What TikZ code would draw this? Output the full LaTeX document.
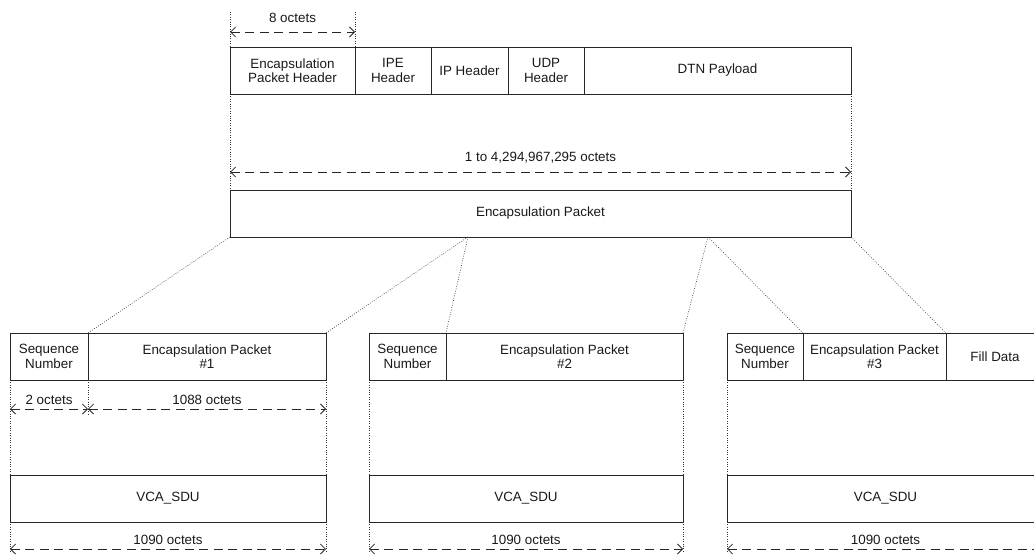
\documentclass[tikz,border=0pt]{standalone}
\usepackage{fontspec}
\setmainfont{Liberation Sans}
\usetikzlibrary{arrows.meta, positioning}

\begin{document}
\begin{tikzpicture}[x=1pt, y=-1pt,
    field/.style={draw=black!85, line width=0.9pt, minimum height=47pt, inner sep=0pt, outer sep=0pt, align=center, text=black!90, font=\fontsize{13.4}{14.5}\selectfont},
    dimline/.style={black!85, line width=0.8pt, dash pattern=on 9pt off 5.5pt, {Straight Barb[length=5pt,width=10pt]}-{Straight Barb[length=5pt,width=10pt]}},
    guide/.style={black!80, line width=0.6pt, dash pattern=on 0.8pt off 1.6pt},
    lbl/.style={inner sep=0pt, text=black!90, font=\fontsize{13.4}{14.5}\selectfont}]
    \useasboundingbox (0,0) rectangle (1034,559);
    \clip (0,0) rectangle (1034,559);

    % Encapsulation packet layout
    \node[field, minimum width=125pt, anchor=north west] (eph) at (230,47) {Encapsulation\\Packet Header};
    \node[field, minimum width=76pt, right=0pt of eph] (ipe) {IPE\\Header};
    \node[field, minimum width=77pt, right=0pt of ipe] (iph) {IP Header};
    \node[field, minimum width=76pt, right=0pt of iph] (udp) {UDP\\Header};
    \node[field, minimum width=267pt, right=0pt of udp] (dtn) {DTN Payload};

    \draw[guide] ([yshift=35pt]eph.north west) -- (eph.north west);
    \draw[guide] ([yshift=35pt]eph.north east) -- (eph.north east);
    \draw[dimline] ([yshift=15pt]eph.north west) -- ([yshift=15pt]eph.north east) node[lbl, midway, above=9pt] {8 octets};

    % Whole encapsulation packet
    \node[field, minimum width=621pt, anchor=north west] (encp) at (230,190) {Encapsulation Packet};
    \draw[guide] (eph.south west) -- (encp.north west);
    \draw[guide] (dtn.south east) -- (encp.north east);
    \draw[dimline] ([yshift=18pt]encp.north west) -- ([yshift=18pt]encp.north east) node[lbl, midway, above=8pt] {1 to 4,294,967,295 octets};

    \coordinate (cuta) at ([xshift=238pt]encp.south west);
    \coordinate (cutb) at ([xshift=478pt]encp.south west);

    % Frame 1
    \node[field, minimum width=78pt, anchor=north west] (seqa) at (10,333) {Sequence\\Number};
    \node[field, minimum width=238pt, right=0pt of seqa] (epa) {Encapsulation Packet\\\#1};
    \node[field, minimum width=316pt, anchor=north west] (vcaa) at (10,475) {VCA\_SDU};

    % Frame 2
    \node[field, minimum width=77pt, anchor=north west] (seqb) at (369,333) {Sequence\\Number};
    \node[field, minimum width=237pt, right=0pt of seqb] (epb) {Encapsulation Packet\\\#2};
    \node[field, minimum width=314pt, anchor=north west] (vcab) at (369,475) {VCA\_SDU};

    % Frame 3
    \node[field, minimum width=76pt, anchor=north west] (seqc) at (727,333) {Sequence\\Number};
    \node[field, minimum width=143pt, right=0pt of seqc] (epc) {Encapsulation Packet\\\#3};
    \node[field, minimum width=98pt, right=0pt of epc] (fill) {Fill Data};
    \node[field, minimum width=317pt, anchor=north west] (vcac) at (727,475) {VCA\_SDU};

    % Splitting into frames
    \draw[guide] (encp.south west) -- (seqa.north east);
    \draw[guide] (cuta) -- (epa.north east);
    \draw[guide] (cuta) -- (seqb.north east);
    \draw[guide] (cutb) -- (epb.north east);
    \draw[guide] (cutb) -- (seqc.north east);
    \draw[guide] (encp.south east) -- (epc.north east);

    % Frame guides
    \draw[guide] (seqa.south west) -- (vcaa.north west);
    \draw[guide] (epa.south east) -- (vcaa.north east);
    \draw[guide] (seqa.south east) -- ([yshift=-34pt]seqa.south east);
    \draw[guide] (seqb.south west) -- (vcab.north west);
    \draw[guide] (epb.south east) -- (vcab.north east);
    \draw[guide] (seqc.south west) -- (vcac.north west);
    \draw[guide] (vcaa.south west) -- ([yshift=-31pt]vcaa.south west);
    \draw[guide] (vcaa.south east) -- ([yshift=-31pt]vcaa.south east);
    \draw[guide] (vcab.south west) -- ([yshift=-31pt]vcab.south west);
    \draw[guide] (vcab.south east) -- ([yshift=-31pt]vcab.south east);
    \draw[guide] (vcac.south west) -- ([yshift=-31pt]vcac.south west);

    % Sizes
    \draw[dimline] ([yshift=-29pt]seqa.south west) -- ([yshift=-29pt]seqa.south east) node[lbl, midway, above=4pt] {2 octets};
    \draw[dimline] ([yshift=-29pt]epa.south west) -- ([yshift=-29pt]epa.south east) node[lbl, midway, above=4pt] {1088 octets};
    \draw[dimline] ([yshift=-27pt]vcaa.south west) -- ([yshift=-27pt]vcaa.south east) node[lbl, midway, above=4pt] {1090 octets};
    \draw[dimline] ([yshift=-27pt]vcab.south west) -- ([yshift=-27pt]vcab.south east) node[lbl, midway, above=4pt] {1090 octets};
    \draw[dimline] ([yshift=-27pt]vcac.south west) -- ([yshift=-27pt]vcac.south east) node[lbl, midway, above=4pt] {1090 octets};
\end{tikzpicture}
\end{document}
